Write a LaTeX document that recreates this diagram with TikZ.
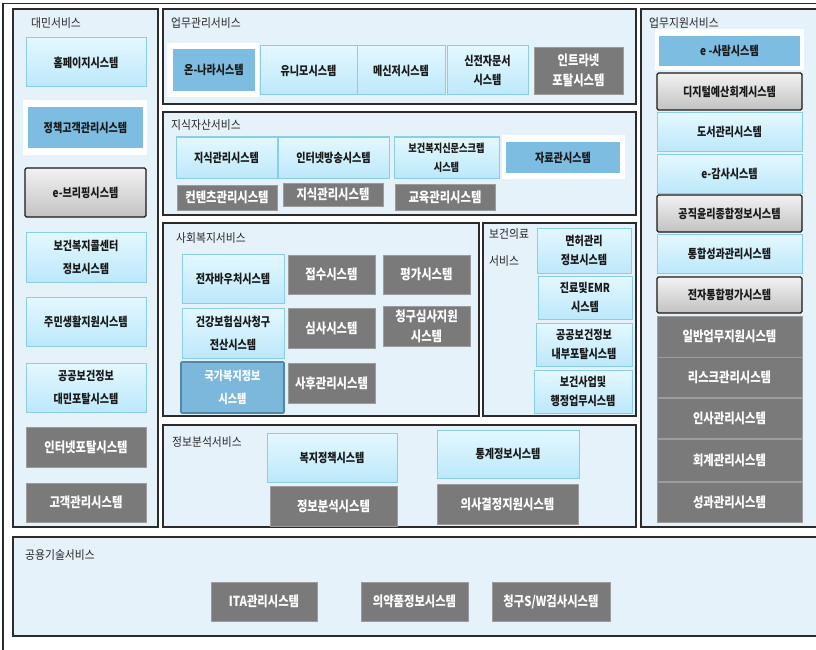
\documentclass[tikz,border=0pt]{standalone}
\usepackage{fontspec}
\newfontfamily\kr[FakeStretch=0.82]{Noto Sans CJK KR}
\newfontfamily\krt[FakeStretch=0.9]{Noto Sans CJK KR}
\definecolor{secfill}{HTML}{E6F2FA}
\definecolor{secline}{HTML}{2B2B2B}
\definecolor{lbtop}{HTML}{E4F8FF}
\definecolor{lbbot}{HTML}{BCE8FA}
\definecolor{lbline}{HTML}{8ACDEB}
\definecolor{midblue}{HTML}{7EBDE2}
\definecolor{darkgray}{HTML}{7A7A7A}
\definecolor{dgline}{HTML}{9C9C9C}
\definecolor{kbfill}{HTML}{7CB8DC}
\definecolor{kbline}{HTML}{4F87AD}
\newcommand\sysbox[7]{%
  \pgfmathsetmacro\sbw{#5-#3}\pgfmathsetmacro\sbh{#6-#4}%
  \pgfmathsetmacro\sbx{(#3+#5)/2}\pgfmathsetmacro\sby{(#4+#6)/2}%
  \node[#2,minimum width=\sbw pt,minimum height=\sbh pt] (#1) at (\sbx,\sby) {#7};}
\tikzset{
  base/.style={inner sep=0pt,outer sep=0pt,align=center},
  sec/.style={base,draw=secline,line width=1.5pt,fill=secfill},
  sectitle/.style={inner sep=0pt,anchor=west,align=left,text=black!85,font=\krt\fontsize{12}{27}\selectfont},
  lb/.style={base,top color=lbtop,bottom color=lbbot,draw=lbline,line width=1pt,text=black!90,font=\kr\bfseries\fontsize{12.3}{23}\selectfont},
  tight/.style={font=\kr\bfseries\fontsize{12.3}{19}\selectfont},
  small/.style={font=\kr\bfseries\fontsize{11.2}{19}\selectfont},
  mb/.style={base,fill=midblue,text=black!90,font=\kr\bfseries\fontsize{12.3}{23}\selectfont},
  wbg/.style={base,fill=white},
  gg/.style={base,top color=white!95!black,bottom color=white!76!black,draw=black!90,line width=1.3pt,rounded corners=1.5pt,text=black!90,font=\kr\bfseries\fontsize{12.3}{23}\selectfont},
  dg/.style={base,fill=darkgray,draw=dgline,line width=0.8pt,text=white,font=\kr\bfseries\fontsize{13.8}{20}\selectfont},
  kb/.style={base,fill=kbfill,draw=kbline,line width=1.6pt,rounded corners=1pt,text=white,font=\kr\bfseries\fontsize{12.3}{23}\selectfont}
}
\begin{document}
\begin{tikzpicture}[x=1pt,y=-1pt]
\useasboundingbox (0,0) rectangle (816,650);
\fill[white] (0,0) rectangle (816,650);
\clip (0,0) rectangle (816,650);
% outer frame
\draw[secline,line width=1.2pt] (3,652) -- (3,3.5) -- (820,3.5);
% sections
\sysbox{s1}{sec}{13}{9}{158}{527}{}
\sysbox{s2}{sec}{163}{9}{636}{104}{}
\sysbox{s3}{sec}{163}{112}{636}{215}{}
\sysbox{s4}{sec}{163}{223}{479}{416}{}
\sysbox{s5}{sec}{483}{223}{636}{416}{}
\sysbox{s6}{sec}{163}{425}{636}{527}{}
\sysbox{s7}{sec}{641}{9}{835}{527}{}
\sysbox{s8}{sec}{13}{537}{835}{636}{}
% titles
\node[sectitle] (t1) at (31,23) {대민서비스};
\node[sectitle] (t2) at (171,23) {업무관리서비스};
\node[sectitle] (t3) at (171,125) {지식자산서비스};
\node[sectitle] (t4) at (176,238) {사회복지서비스};
\node[sectitle,anchor=north west] (t5) at (489,228) {보건의료\\서비스};
\node[sectitle] (t6) at (172,442) {정보분석서비스};
\node[sectitle] (t7) at (649,23) {업무지원서비스};
\node[sectitle] (t8) at (25,555) {공용기술서비스};
% 대민서비스
\sysbox{n11}{lb}{26}{38}{146}{87}{홈페이지시스템}
\sysbox{n12w}{wbg}{23}{100}{147}{155}{}
\sysbox{n12}{mb}{28}{107}{143}{148}{정책고객관리시스템}
\sysbox{n13}{gg}{25}{168}{146}{217}{e-브리핑시스템}
\sysbox{n14}{lb}{26}{232}{146}{282}{보건복지콜센터\\정보시스템}
\sysbox{n15}{lb}{26}{297}{146}{346}{주민생활지원시스템}
\sysbox{n16}{lb}{26}{363}{146}{412}{공공보건정보\\대민포탈시스템}
\sysbox{n17}{dg}{26}{427}{146}{467}{인터넷포탈시스템}
\sysbox{n18}{dg}{26}{483}{146}{522}{고객관리시스템}
% 업무관리서비스
\sysbox{n21w}{wbg}{167}{43}{259}{97}{}
\sysbox{n21}{mb}{173}{49}{255}{91}{온-나라시스템}
\sysbox{n22}{lb}{260}{46}{357}{95}{유니모시스템}
\sysbox{n23}{lb}{357}{46}{445}{95}{메신저시스템}
\sysbox{n24}{lb,tight}{447}{46}{528}{95}{신전자문서\\시스템}
\sysbox{n25}{dg}{534}{47}{623}{94}{인트라넷\\포탈시스템}
% 지식자산서비스
\sysbox{n31}{lb}{176}{137}{277}{178}{지식관리시스템}
\sysbox{n32}{lb}{278}{137}{389}{178}{인터넷방송시스템}
\sysbox{n33}{lb,small}{394}{137}{499}{178}{보건복지신문스크랩\\시스템}
\sysbox{n34w}{wbg}{502}{135}{625}{179}{}
\sysbox{n34}{mb}{506}{142}{620}{173}{자료관시스템}
\sysbox{n35}{dg}{177}{185}{277}{210}{컨텐츠관리시스템}
\sysbox{n36}{dg}{283}{183}{383}{206}{지식관리시스템}
\sysbox{n37}{dg}{395}{184}{495}{210}{교육관리시스템}
% 사회복지서비스
\sysbox{n41}{lb}{182}{254}{284}{303}{전자바우처시스템}
\sysbox{n42}{dg}{288}{255}{375}{294}{접수시스템}
\sysbox{n43}{dg}{383}{255}{470}{294}{평가시스템}
\sysbox{n44}{lb}{182}{308}{284}{358}{건강보험심사청구\\전산시스템}
\sysbox{n45}{dg}{288}{308}{375}{348}{심사시스템}
\sysbox{n46}{dg}{383}{306}{470}{346}{청구심사지원\\시스템}
\sysbox{n47}{kb}{181}{362}{284}{413}{국가복지정보\\시스템}
\sysbox{n48}{dg}{288}{363}{375}{403}{사후관리시스템}
% 보건의료서비스
\sysbox{n51}{lb,tight}{537}{228}{631}{273}{면허관리\\정보시스템}
\sysbox{n52}{lb,tight}{538}{276}{632}{319}{진료및EMR\\시스템}
\sysbox{n53}{lb,tight}{536}{323}{632}{366}{공공보건정보\\내부포탈시스템}
\sysbox{n54}{lb,tight}{534}{370}{632}{413}{보건사업및\\행정업무시스템}
% 정보분석서비스
\sysbox{n61}{lb}{267}{433}{397}{482}{복지정책시스템}
\sysbox{n62}{lb}{437}{430}{579}{478}{통계정보시스템}
\sysbox{n63}{dg}{270}{486}{397}{526}{정보분석시스템}
\sysbox{n64}{dg}{437}{484}{578}{524}{의사결정지원시스템}
% 업무지원서비스
\sysbox{n71w}{wbg}{655}{29}{804}{70}{}
\sysbox{n71}{mb}{659}{36}{800}{66}{e -사람시스템}
\sysbox{n72}{gg}{657}{73}{802}{110}{디지털예산회계시스템}
\sysbox{n73}{lb}{657}{113}{802}{151}{도서관리시스템}
\sysbox{n74}{lb}{657}{154}{802}{193}{e-감사시스템}
\sysbox{n75}{gg}{657}{195}{802}{232}{공직윤리종합정보시스템}
\sysbox{n76}{lb}{657}{234}{802}{273}{통합성과관리시스템}
\sysbox{n77}{gg}{657}{277}{802}{313}{전자통합평가시스템}
\sysbox{n78}{dg}{657}{316}{802}{357}{일반업무지원시스템}
\sysbox{n79}{dg}{657}{357}{802}{397}{리스크관리시스템}
\sysbox{n7a}{dg}{657}{398}{802}{438}{인사관리시스템}
\sysbox{n7b}{dg}{657}{439}{802}{481}{회계관리시스템}
\sysbox{n7c}{dg}{657}{482}{802}{522}{성과관리시스템}
% 공용기술서비스
\sysbox{n81}{dg}{211}{582}{317}{621}{ITA관리시스템}
\sysbox{n82}{dg}{361}{582}{468}{621}{의약품정보시스템}
\sysbox{n83}{dg}{492}{582}{610}{621}{청구S/W검사시스템}
\end{tikzpicture}
\end{document}
